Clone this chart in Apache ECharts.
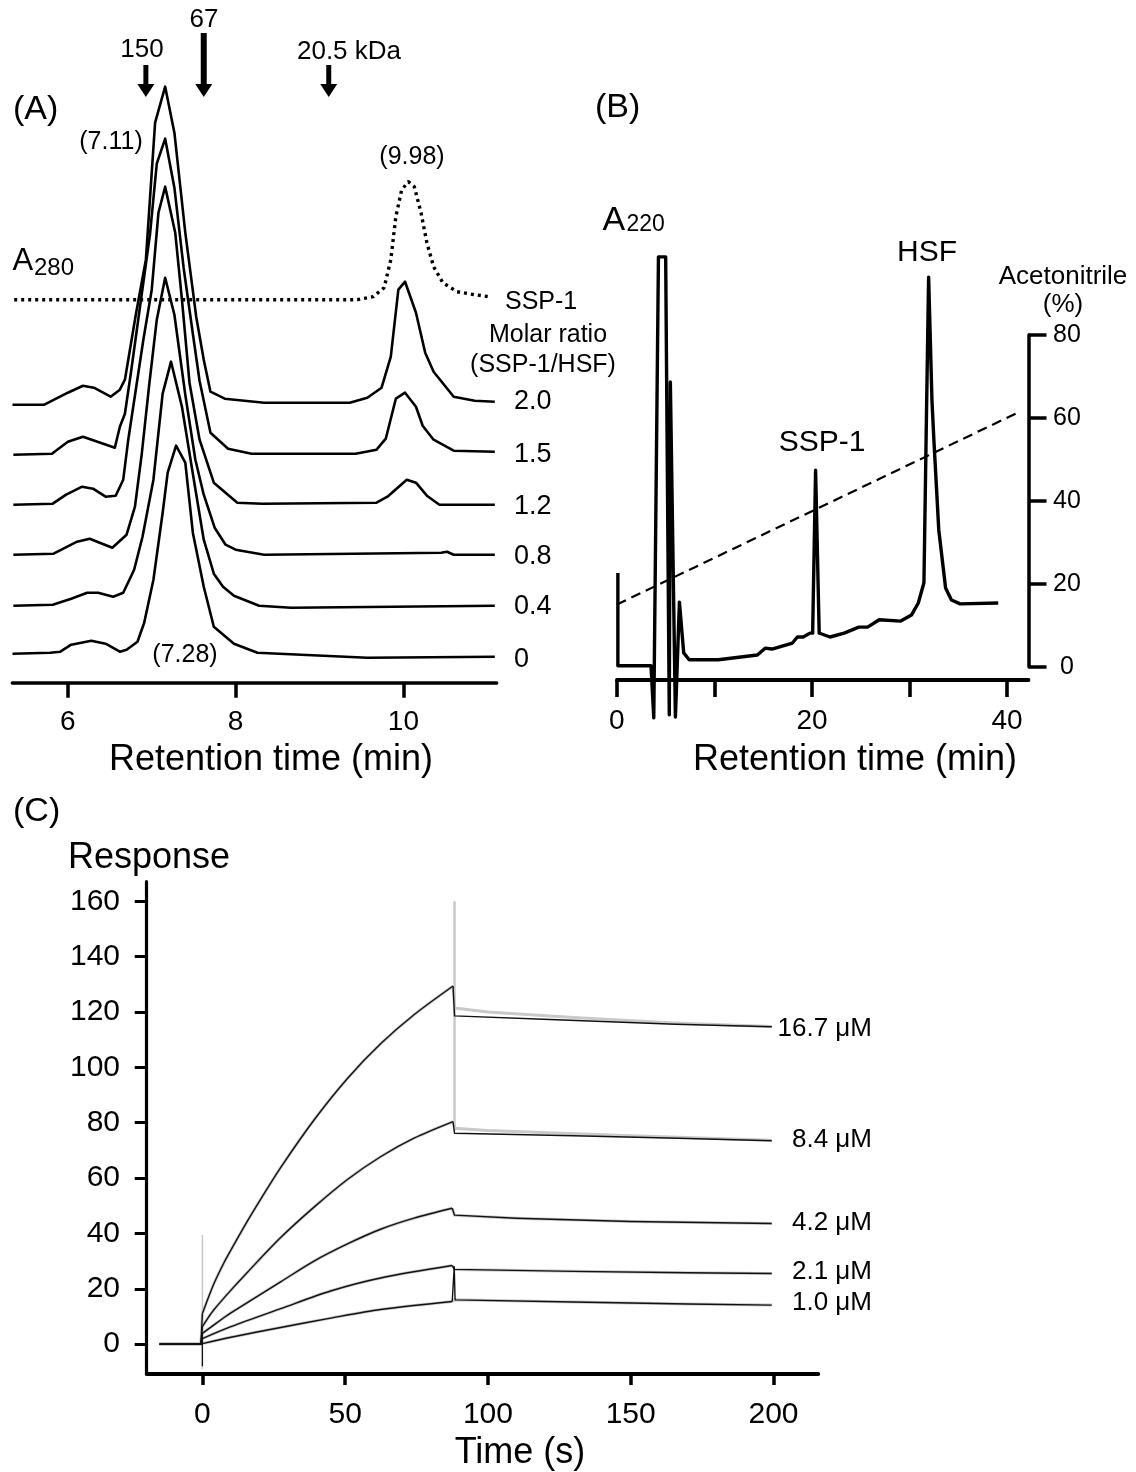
<!DOCTYPE html>
<html>
<head>
<meta charset="utf-8">
<script src="https://cdn.jsdelivr.net/npm/echarts@6.0.0/dist/echarts.min.js"></script>
<style>
  html,body{margin:0;padding:0;background:#fff;}
  #chart{width:1136px;height:1472px;}
</style>
</head>
<body>
<div id="chart"></div>
<script>
  var FONT = '"Liberation Sans", Arial, sans-serif';

  // (A) gel filtration, A280 traces (height above own baseline) and stacking offsets
  var ratioLabels = ['2.0', '1.5', '1.2', '0.8', '0.4', '0'];
  var traceOffsets = [278, 229, 178, 128, 77, 29];
  var trace20 = [[5.34,0],[5.72,0],[6.0,12],[6.18,19],[6.31,17],[6.51,8],[6.62,15],[6.68,25],[6.72,45],[6.81,90],[6.93,145],[7.04,282],[7.16,318],[7.27,272],[7.40,172],[7.53,88],[7.62,45],[7.70,13],[7.87,6],[8.34,2],[9.36,2],[9.57,7],[9.74,17],[9.85,48],[9.94,115],[10.02,123],[10.15,92],[10.26,52],[10.36,33],[10.6,8],[10.85,4],[11.09,3]];
  var trace15 = [[5.35,-1],[5.81,0],[6.0,12],[6.18,17],[6.56,6],[6.62,27],[6.68,40],[6.75,80],[6.87,153],[6.98,220],[7.06,290],[7.16,315],[7.27,266],[7.38,186],[7.49,120],[7.57,73],[7.70,21],[7.91,5],[8.19,0],[9.43,0],[9.68,4],[9.79,15],[9.91,55],[10.02,61],[10.15,47],[10.23,28],[10.36,14],[10.6,3],[11.09,2]];
  var trace12 = [[5.35,0],[5.82,1],[5.98,10],[6.17,18],[6.30,16],[6.45,8],[6.57,9],[6.66,25],[6.72,65],[6.81,115],[6.9,165],[7.0,215],[7.08,292],[7.16,318],[7.28,272],[7.36,205],[7.45,122],[7.57,65],[7.74,22],[8.02,2],[8.32,1],[9.68,2],[9.81,8],[10.04,25],[10.15,22],[10.28,9],[10.43,0],[11.09,0]];
  var trace08 = [[5.35,0],[5.83,1],[6.11,13],[6.26,16],[6.53,7],[6.70,20],[6.80,48],[6.88,100],[6.97,170],[7.06,235],[7.16,277],[7.27,240],[7.40,160],[7.52,95],[7.62,60],[7.75,27],[7.88,10],[8.0,5],[8.34,0],[10.45,2],[10.52,3],[10.6,0],[11.09,0]];
  var trace04 = [[5.35,0],[5.82,1],[6.04,7],[6.23,13],[6.36,13],[6.54,9],[6.66,13],[6.79,36],[6.89,69],[7.02,126],[7.13,212],[7.23,244],[7.36,199],[7.49,132],[7.62,66],[7.74,32],[7.85,19],[7.98,10],[8.28,0],[8.66,-2],[11.09,0]];
  var trace00 = [[5.34,0],[5.79,1],[5.91,2],[6.04,9],[6.28,13],[6.45,10],[6.62,2],[6.70,4],[6.83,12],[6.91,31],[7.02,74],[7.13,141],[7.19,181],[7.29,208],[7.40,191],[7.49,121],[7.62,67],[7.74,27],[7.98,10],[8.26,1],[9.57,-4],[11.09,-3]];
  var traces = [trace20, trace15, trace12, trace08, trace04, trace00];
  var sspOffset = 383;
  var sspTrace = [[5.36,0],[9.45,0],[9.64,3],[9.77,12],[9.85,40],[9.91,83],[9.98,110],[10.06,118],[10.13,113],[10.21,87],[10.28,57],[10.36,33],[10.47,17],[10.64,8],[10.85,5],[11.02,3]];
  var markerTimes = [6.93, 7.62, 9.11];
  var markerLabels = ['150', '67', '20.5 kDa'];
  var ticksA = [6, 8, 10];

  // (B) RP-HPLC, A220 (arbitrary units) and acetonitrile gradient (%)
  var a220 = [[0.1,24.9],[0.1,3.3],[3.5,3.3],[3.78,-8.8],[4.26,98.4],[5.0,98.4],[5.37,-8.1],[5.48,69.3],[6.0,-8.6],[6.41,18.1],[6.85,6.3],[7.41,4.7],[10.4,4.7],[14.4,5.8],[15.2,7.4],[15.9,7.2],[18.0,8.6],[18.5,10.0],[19.1,10.0],[19.8,10.9],[20.07,10.9],[20.37,48.8],[20.74,10.9],[21.0,10.7],[21.85,10.0],[23.3,10.9],[24.8,12.3],[25.7,12.3],[26.9,14.0],[29.1,13.7],[30.2,15.1],[30.9,17.9],[31.48,22.6],[31.7,55.8],[31.96,93.7],[32.3,65.1],[32.5,55.8],[33.0,34.9],[33.7,21.4],[34.3,18.6],[35.2,17.7],[39.1,17.9]];
  var gradient = [[0,15],[41.3,61.5]];
  var ticksB = [0, 10, 20, 30, 40];
  var labelsB = [0, 20, 40];

  // (C) SPR sensorgrams
  var concLabels = ['16.7 μM', '8.4 μM', '4.2 μM', '2.1 μM', '1.0 μM'];
  var preBaseline = [[-15,0],[-0.5,0]];
  var assoc167 = [[0,11.1],[1.8,16],[4.1,22],[7.6,29.5],[10,34],[15.8,44.5],[20.5,52.5],[27.4,63.8],[39.1,81],[50.8,96],[62.4,108.5],[74.1,119],[87.8,129.4]];
  var assoc84 = [[0,6.3],[1.8,9.2],[4.1,12.5],[10,19.5],[15.8,26],[27.4,38.5],[39.1,49.5],[50.8,59.5],[62.4,67.7],[74.1,74.4],[87.8,80.4]];
  var assoc42 = [[0,3.9],[7.6,9.6],[10,11.3],[27.4,22.5],[39.1,30],[50.8,36.2],[62.4,41.5],[74.1,45.5],[87.5,49.1]];
  var assoc21 = [[0,2],[10,6.3],[27.4,12.8],[44.9,19.2],[62.4,23.9],[87.5,28.4]];
  var assoc10 = [[0,0.2],[10,2.5],[27.4,6.0],[44.9,9.4],[62.4,12.5],[87.5,15.4]];
  var dissoc167 = [[88.3,118.6],[119.4,117.4],[165.6,115.6],[199.4,114.7]];
  var dissoc84 = [[88.3,76.2],[130,75.3],[170,74.3],[199.4,73.5]];
  var dissoc42 = [[88.3,46.6],[110,45.5],[150,44.3],[199.4,43.6]];
  var dissoc21 = [[88.3,27.0],[130,26.3],[170,25.8],[199.4,25.5]];
  var dissoc10 = [[88.2,28],[88.5,16.0],[130,15.2],[170,14.5],[199.4,14.1]];
  var fitDissoc167 = [[88.3,121.5],[100,120],[130,118],[165,116],[199.4,114.8]];
  var fitDissoc84 = [[88.3,78],[100,77.2],[150,75.3],[199.4,73.7]];
  var injectSpike = [[0,-9],[0,39.4]];
  var washSpike = [[88.3,77],[88.3,160]];
  var blackSpike = [[0,-8],[0,4]];
  var ticksCx = [0, 50, 100, 150, 200];
  var ticksCy = [0, 20, 40, 60, 80, 100, 120, 140, 160];

  var assocs = [assoc167, assoc84, assoc42, assoc21, assoc10];
  var dissocs = [dissoc167, dissoc84, dissoc42, dissoc21, dissoc10];
  var fitDissocs = [fitDissoc167, fitDissoc84, dissoc42, dissoc21, dissoc10.slice(1)];

  function shift(arr, off) {
    return arr.map(function (p) { return [p[0], p[1] + off]; });
  }

  function lineSeries(xi, data, color, width, type, smooth) {
    return {
      type: 'line', xAxisIndex: xi, yAxisIndex: xi, data: data,
      symbol: 'none', clip: false, silent: true, smooth: smooth || false,
      lineStyle: { color: color, width: width, type: type || 'solid', join: 'round', cap: 'butt' }
    };
  }

  function valueX(grid, min, max, ticks, labels, tickLen, tickW, lineW, fontSize, margin) {
    return {
      gridIndex: grid, type: 'value', min: min, max: max,
      axisLine: { show: true, onZero: false, lineStyle: { color: '#000', width: lineW } },
      axisTick: { show: true, length: tickLen, customValues: ticks, lineStyle: { color: '#000', width: tickW } },
      axisLabel: { show: true, customValues: labels, margin: margin, color: '#000', fontSize: fontSize, fontFamily: FONT },
      splitLine: { show: false }
    };
  }

  var series = [];
  traces.forEach(function (t, i) {
    series.push(lineSeries(0, shift(t, traceOffsets[i]), '#000', 2.6));
  });
  series.push(lineSeries(0, shift(sspTrace, sspOffset), '#000', 3.4, [3, 4]));

  series.push(lineSeries(1, a220, '#000', 3.4));
  series.push(lineSeries(2, gradient, '#000', 2.2, [10, 6]));

  // sensorgram = flat baseline, association (drawn smooth through the read points), dissociation
  function sensorgram(assoc, dissoc, color, width) {
    var first = assoc[0], last = assoc[assoc.length - 1];
    series.push(lineSeries(3, preBaseline.concat([first]), color, width));
    series.push(lineSeries(3, assoc, color, width, 'solid', 0.3));
    series.push(lineSeries(3, [last].concat(dissoc), color, width));
  }

  var fitGray = '#c9c9c9';
  series.push(lineSeries(3, injectSpike, fitGray, 1.5));
  series.push(lineSeries(3, washSpike, fitGray, 2.5));
  assocs.forEach(function (a, i) { sensorgram(a, fitDissocs[i], fitGray, 3); });
  assocs.forEach(function (a, i) { sensorgram(a, dissocs[i], '#111', 1.4); });
  series.push(lineSeries(3, blackSpike, '#111', 1.3));

  var option = {
    animation: false,
    backgroundColor: '#fff',
    grid: [
      { left: 12.5, top: 82.7, width: 484, height: 600, outerBoundsMode: 'none' },
      { left: 616.9, top: 250, width: 411.6, height: 430, outerBoundsMode: 'none' },
      { left: 616.9, top: 335, width: 411.6, height: 331.7, outerBoundsMode: 'none' },
      { left: 146.7, top: 881.7, width: 671.6, height: 492.3, outerBoundsMode: 'none' }
    ],
    xAxis: [
      valueX(0, 5.34, 11.11, ticksA, ticksA, 15, 3.5, 3.7, 28, 26),
      valueX(1, 0, 42.2, ticksB, labelsB, 17, 3.6, 3.8, 28, 27.7),
      { gridIndex: 2, type: 'value', min: 0, max: 42.2, show: false },
      valueX(3, -19.5, 215.7, ticksCx, ticksCx, 11, 3.5, 3.8, 30, 26)
    ],
    yAxis: [
      { gridIndex: 0, type: 'value', min: 0, max: 600, show: false },
      { gridIndex: 1, type: 'value', min: 0, max: 100, show: false },
      {
        gridIndex: 2, type: 'value', position: 'right', min: 0, max: 80, interval: 20,
        axisLine: { show: true, onZero: false, lineStyle: { color: '#000', width: 3.5 } },
        axisTick: { show: true, length: 18, lineStyle: { color: '#000', width: 3.5 } },
        axisLabel: { margin: 38.5, align: 'center', color: '#000', fontSize: 25, fontFamily: FONT },
        splitLine: { show: false }
      },
      {
        gridIndex: 3, type: 'value', min: -10.8, max: 167.1,
        axisLine: { show: true, onZero: false, lineStyle: { color: '#000', width: 3.2 } },
        axisTick: { show: true, length: 12, customValues: ticksCy, lineStyle: { color: '#000', width: 3 } },
        axisLabel: { customValues: ticksCy, margin: 26.7, color: '#000', fontSize: 30, fontFamily: FONT },
        splitLine: { show: false }
      }
    ],
    series: series
  };

  var chart = echarts.init(document.getElementById('chart'), null, { renderer: 'canvas' });
  chart.setOption(option);

  function txt(text, x, y, size, align) {
    return {
      type: 'text', x: x, y: y, silent: true,
      style: {
        text: text, fill: '#000', font: size + 'px ' + FONT,
        align: align || 'center', verticalAlign: 'middle',
        textAlign: align || 'center', textVerticalAlign: 'middle'
      }
    };
  }

  var graphics = [];
  // panel labels
  graphics.push(txt('(A)', 13, 110, 34, 'left'));
  graphics.push(txt('(B)', 595, 108, 34, 'left'));
  graphics.push(txt('(C)', 13, 812, 34, 'left'));

  // molecular weight markers
  var arrowTops = [65, 33, 65];
  var arrowWidths = [5, 6, 5];
  var labelPos = [[142, 50], [204, 20], [349, 52]];
  markerTimes.forEach(function (t, i) {
    var x = chart.convertToPixel({ xAxisIndex: 0 }, t);
    graphics.push({ type: 'line', silent: true, shape: { x1: x, y1: arrowTops[i], x2: x, y2: 86 }, style: { stroke: '#000', lineWidth: arrowWidths[i] } });
    graphics.push({ type: 'polygon', silent: true, shape: { points: [[x - 8.5, 84], [x + 8.5, 84], [x, 97]] }, style: { fill: '#000' } });
    graphics.push(txt(markerLabels[i], labelPos[i][0], labelPos[i][1], 26));
  });

  graphics.push(txt('A', 12.5, 261, 31, 'left'));
  graphics.push(txt('280', 34, 268, 24, 'left'));
  graphics.push(txt('(7.11)', 111, 142, 25));
  graphics.push(txt('(9.98)', 412, 157, 25));
  graphics.push(txt('(7.28)', 185, 655, 25));
  graphics.push(txt('SSP-1', 505, 302, 25, 'left'));
  graphics.push(txt('Molar ratio', 548, 335, 25));
  graphics.push(txt('(SSP-1/HSF)', 543, 365, 25));
  var ratioY = [402, 455, 507, 557, 607, 660];
  ratioLabels.forEach(function (r, i) {
    graphics.push(txt(r, 514, ratioY[i], 27, 'left'));
  });
  graphics.push(txt('Retention time (min)', 271, 760, 36));

  graphics.push(txt('A', 602.5, 220.5, 34, 'left'));
  graphics.push(txt('220', 626.5, 225, 23, 'left'));
  graphics.push(txt('HSF', 927, 253, 30));
  graphics.push(txt('SSP-1', 822, 443, 30));
  graphics.push(txt('Acetonitrile', 1063, 277, 26));
  graphics.push(txt('(%)', 1063, 305, 26));
  graphics.push(txt('Retention time (min)', 855, 760, 36));

  graphics.push(txt('Response', 68, 858, 36, 'left'));
  graphics.push(txt('Time (s)', 520, 1453, 36));
  var concY = [1029, 1140, 1223, 1272, 1303];
  concLabels.forEach(function (c, i) {
    graphics.push(txt(c, 872, concY[i], 26, 'right'));
  });

  chart.setOption({ graphic: graphics });
</script>
</body>
</html>
